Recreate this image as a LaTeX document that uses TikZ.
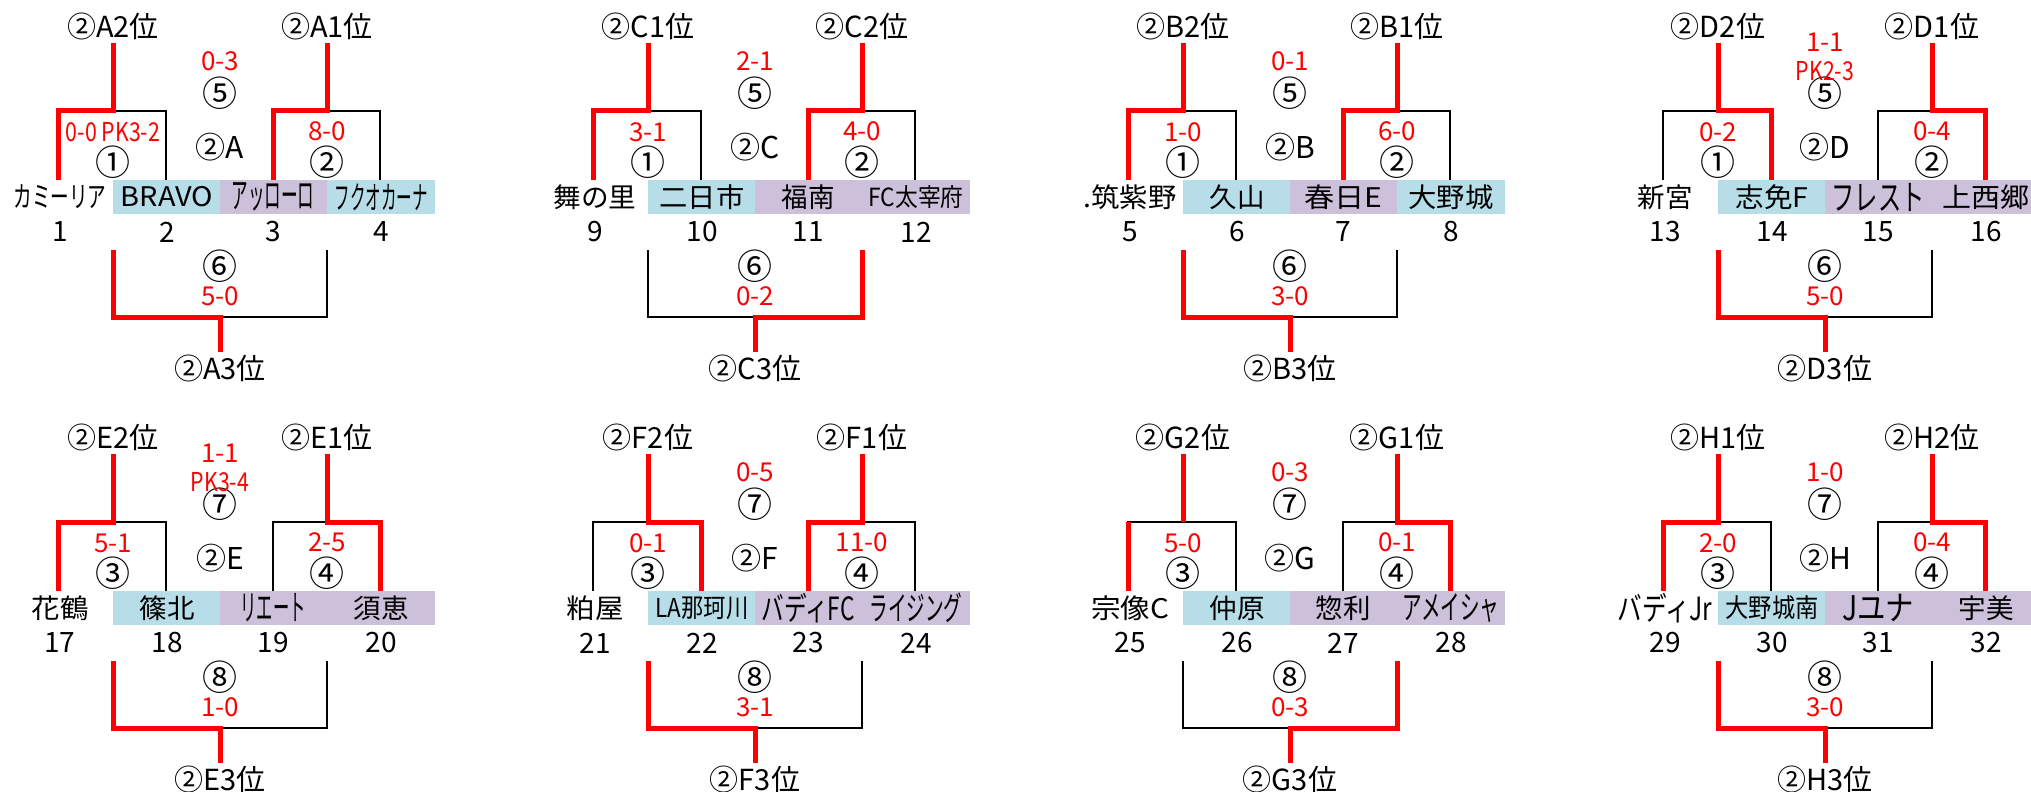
\documentclass[tikz,border=0pt]{standalone}
\usepackage{fontspec}
\usepackage{graphicx}
\setmainfont{Noto Sans CJK JP}
\definecolor{cblue}{HTML}{B7DDE8}
\definecolor{cpurp}{HTML}{CCC0DA}
\definecolor{wred}{HTML}{FF0000}
\newlength\pxu \setlength\pxu{0.5pt}
\newcommand\fs[1]{\fontsize{#1}{#1}\selectfont}
% name: scaled horizontally to the given width, height kept
\newcommand\nm[2]{\resizebox{#1\pxu}{\height}{\fs{13.5}#2}}
\newcommand\pk[1]{\scalebox{0.82}[1]{#1}}
\tikzset{
  every node/.style={inner sep=0pt, outer sep=0pt},
  lbl/.style={font=\fontsize{14.5}{15}\selectfont},
  ctr/.style={font=\fontsize{15}{15}\selectfont},
  mno/.style={font=\fontsize{17.5}{18}\selectfont},
  sco/.style={font=\fontsize{13}{13}\selectfont, text=wred},
  num/.style={font=\fontsize{14}{14}\selectfont},
  blk/.style={draw=black, line width=1.15pt},
  win/.style={draw=wred, line width=2.5pt},
}
% base frame of one panel: letter, left rank, right rank, four match marks
\newcommand\base[7]{%
  \def\pl{#1}%
  \coordinate (\pl-dl) at (113,43);  \coordinate (\pl-dr) at (327,43);
  \coordinate (\pl-hl) at (113,111); \coordinate (\pl-hr) at (327,111);
  \coordinate (\pl-a1) at (58,111);  \coordinate (\pl-a2) at (166,111);
  \coordinate (\pl-a3) at (273,111); \coordinate (\pl-a4) at (380,111);
  \coordinate (\pl-f1) at (58,180);  \coordinate (\pl-f2) at (166,180);
  \coordinate (\pl-f3) at (273,180); \coordinate (\pl-f4) at (380,180);
  \coordinate (\pl-bl) at (113,250); \coordinate (\pl-br) at (327,250);
  \coordinate (\pl-cl) at (113,317); \coordinate (\pl-cr) at (327,317);
  \coordinate (\pl-bm) at (220,317); \coordinate (\pl-be) at (220,352);
  \node[lbl] (\pl-tl) at (113,26) {②\pl#2位};
  \node[lbl] (\pl-tr) at (327,26) {②\pl#3位};
  \node[lbl] (\pl-bt) at (220,368) {②\pl3位};
  \node[ctr] (\pl-gr) at (220,147) {②\pl};
  \node[mno] (\pl-m1) at (113,162) {#4};
  \node[mno] (\pl-m2) at (327,162) {#5};
  \node[mno] (\pl-m3) at (220,93) {#6};
  \node[mno] (\pl-m4) at (220,266) {#7};
  \draw[blk] (\pl-f1) -- (\pl-a1) -- (\pl-a2) -- (\pl-f2);
  \draw[blk] (\pl-f3) -- (\pl-a3) -- (\pl-a4) -- (\pl-f4);
  \draw[blk] (\pl-bl) -- (\pl-cl) -- (\pl-cr) -- (\pl-br);
}
\newcommand\cells[3]{%
  \fill[#1] (113,180) rectangle (220,214);
  \fill[#2] (220,180) rectangle (327,214);
  \fill[#3] (327,180) rectangle (435,214);
}
\newcommand\names[8]{%
  \node (\pl-t1) at (60,197) {\nm{#1}{#2}};
  \node (\pl-t2) at (167,197) {\nm{#3}{#4}};
  \node (\pl-t3) at (273,197) {\nm{#5}{#6}};
  \node (\pl-t4) at (381,197) {\nm{#7}{#8}};
}
\newcommand\nums[4]{%
  \node[num] (\pl-n1) at (60,232) {#1};
  \node[num] (\pl-n2) at (167,232) {#2};
  \node[num] (\pl-n3) at (273,232) {#3};
  \node[num] (\pl-n4) at (381,232) {#4};
}
\newcommand\scores[4]{%
  \node[sco] (\pl-s1) at (113,132) {#1};
  \node[sco] (\pl-s2) at (327,131) {#2};
  \node[sco] (\pl-s3) at (220,61) {#3};
  \node[sco] (\pl-s4) at (220,296) {#4};
}
\newcommand\scoresPK[5]{%
  \node[sco] (\pl-s1) at (113,132) {#1};
  \node[sco] (\pl-s2) at (327,131) {#2};
  \node[sco] (\pl-s3) at (220,42) {#3};
  \node[sco] (\pl-s3b) at (220,71) {\pk{#4}};
  \node[sco] (\pl-s4) at (220,296) {#5};
}
\newcommand\wOneL{\draw[win] (\pl-f1) -- (\pl-a1) -- (\pl-hl) -- (\pl-dl);}
\newcommand\wOneR{\draw[win] (\pl-f2) -- (\pl-a2) -- (\pl-hl) -- (\pl-dl);}
\newcommand\wOneQ{\draw[win] (\pl-f1) -- (\pl-a1); \draw[win] (\pl-hl) -- (\pl-dl);}
\newcommand\wTwoL{\draw[win] (\pl-f3) -- (\pl-a3) -- (\pl-hr) -- (\pl-dr);}
\newcommand\wTwoR{\draw[win] (\pl-f4) -- (\pl-a4) -- (\pl-hr) -- (\pl-dr);}
\newcommand\wBotL{\draw[win] (\pl-bl) -- (\pl-cl) -- (\pl-bm) -- (\pl-be);}
\newcommand\wBotR{\draw[win] (\pl-br) -- (\pl-cr) -- (\pl-bm) -- (\pl-be);}

\begin{document}
\begin{tikzpicture}[x=0.5pt, y=-0.5pt]
\useasboundingbox (0,0) rectangle (2031,792);
% ---- A
\begin{scope}[shift={(0,0)}]
\cells{cblue}{cpurp}{cblue}
\base{A}{2}{1}{①}{②}{⑤}{⑥}
\wOneL \wTwoL \wBotL
\names{93}{\fs{14.5}カミーリア}{92}{BRAVO}{83}{\fs{18}アッローロ}{93}{\fs{16}フクオカーナ}
\nums{1}{2}{3}{4}
\scores{\pk{0-0 PK3-2}}{8-0}{0-3}{5-0}
\end{scope}
% ---- C
\begin{scope}[shift={(535,0)}]
\cells{cblue}{cpurp}{cpurp}
\base{C}{1}{2}{①}{②}{⑤}{⑥}
\wOneL \wTwoL \wBotR
\names{83}{舞の里}{85}{二日市}{53}{福南}{95}{\fs{12.5}FC太宰府}
\nums{9}{10}{11}{12}
\scores{3-1}{4-0}{2-1}{0-2}
\end{scope}
% ---- B
\begin{scope}[shift={(1070,0)}]
\cells{cblue}{cpurp}{cblue}
\base{B}{2}{1}{①}{②}{⑤}{⑥}
\wOneL \wTwoL \wBotL
\names{93}{.筑紫野}{55}{久山}{78}{春日E}{85}{大野城}
\nums{5}{6}{7}{8}
\scores{1-0}{6-0}{0-1}{3-0}
\end{scope}
% ---- D
\begin{scope}[shift={(1605,0)}]
\cells{cblue}{cpurp}{cpurp}
\base{D}{2}{1}{①}{②}{⑤}{⑥}
\wOneR \wTwoR \wBotL
\names{55}{新宮}{73}{志免F}{93}{\fs{17.5}フレスト}{87}{上西郷}
\nums{13}{14}{15}{16}
\scoresPK{0-2}{0-4}{1-1}{PK2-3}{5-0}
\end{scope}
% ---- E
\begin{scope}[shift={(0,411)}]
\cells{cblue}{cpurp}{cpurp}
\base{E}{2}{1}{③}{④}{⑦}{⑧}
\wOneL \wTwoR \wBotL
\names{57}{花鶴}{55}{篠北}{65}{\fs{17.5}リエート}{55}{須恵}
\nums{17}{18}{19}{20}
\scoresPK{5-1}{2-5}{1-1}{PK3-4}{1-0}
\end{scope}
% ---- F
\begin{scope}[shift={(535,411)}]
\cells{cblue}{cpurp}{cpurp}
\base{F}{2}{1}{③}{④}{⑦}{⑧}
\wOneR \wTwoL \wBotL
\names{57}{粕屋}{93}{\fs{13}LA那珂川}{93}{\fs{16}バディFC}{93}{\fs{16.5}ライジング}
\nums{21}{22}{23}{24}
\scores{0-1}{11-0}{0-5}{3-1}
\end{scope}
% ---- G
\begin{scope}[shift={(1070,411)}]
\cells{cblue}{cpurp}{cpurp}
\base{G}{2}{1}{③}{④}{⑦}{⑧}
\wOneQ \wTwoR \wBotR
\names{78}{宗像C}{55}{仲原}{55}{惣利}{97}{\fs{16.5}アメイシャ}
\nums{25}{26}{27}{28}
\scores{5-0}{0-1}{0-3}{0-3}
\end{scope}
% ---- H
\begin{scope}[shift={(1605,411)}]
\cells{cblue}{cpurp}{cpurp}
\base{H}{1}{2}{③}{④}{⑦}{⑧}
\wOneL \wTwoR \wBotL
\names{95}{\fs{16}バディJr}{93}{\fs{13}大野城南}{72}{\fs{17}Jユナ}{55}{宇美}
\nums{29}{30}{31}{32}
\scores{2-0}{0-4}{1-0}{3-0}
\end{scope}
\end{tikzpicture}
\end{document}
